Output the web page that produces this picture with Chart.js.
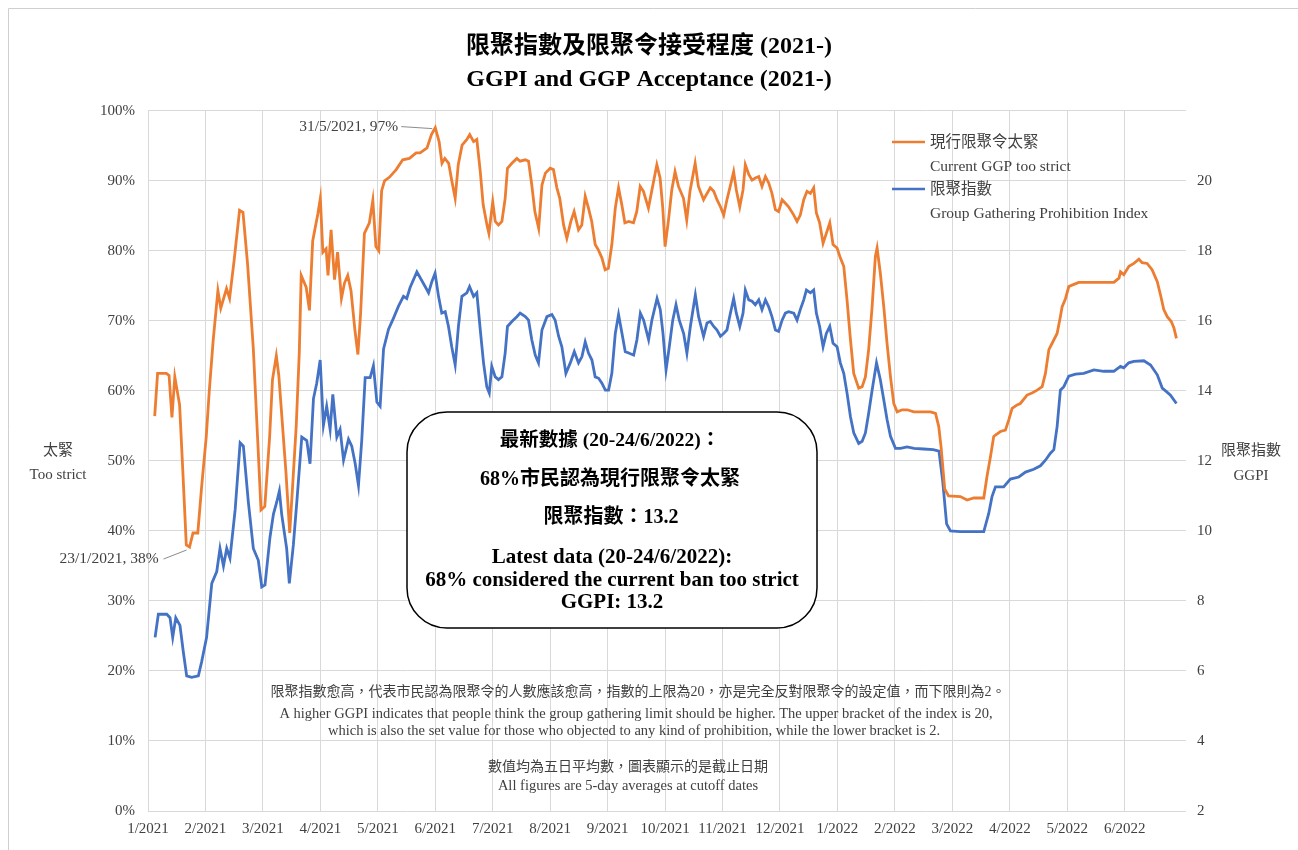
<!DOCTYPE html>
<html>
<head>
<meta charset="utf-8">
<script src="https://cdn.jsdelivr.net/npm/chart.js@4.4.1/dist/chart.umd.min.js"></script>
<style>
  body { margin: 0; background: #fff; }
  canvas { display: block; }
</style>
</head>
<body>
<canvas id="grafico" width="1298" height="850"></canvas>
<script>
// x = days since 1/1/2021, ticks every 30 days
const monthLabels = ["1/2021", "2/2021", "3/2021", "4/2021", "5/2021", "6/2021", "7/2021", "8/2021", "9/2021",
  "10/2021", "11/2021", "12/2021", "1/2022", "2/2022", "3/2022", "4/2022", "5/2022", "6/2022"];

// 現行限聚令太緊 (%)
const strictDays = [3.5, 5, 9.6, 11, 12.5, 14, 16.5, 18, 20, 21.7, 23.5, 26, 28, 30.4, 32, 34, 36.5, 38, 41, 42.6,
  45, 47.8, 49.6, 52, 55, 57.4, 59, 61, 63.5, 65, 67, 68.3, 69.5, 72, 74, 75.6, 77.4, 79, 80, 82.6,
  84.3, 86, 88.7, 90, 91.3, 93, 94, 95.6, 97.4, 99, 101, 102.6, 104.3, 106, 108, 109.6, 111, 113, 115.6, 117.4,
  119, 120.5, 122, 123.5, 126, 129.6, 133, 136.5, 140, 142.1, 145.7, 148, 150, 152, 153.5, 155, 157, 158.7, 160.4, 162,
  164, 166.5, 168, 170, 171.7, 173.5, 175, 177, 178, 180, 181.3, 183, 184.8, 186.5, 187.7, 190, 192.6, 194.3, 197, 198.7,
  200.4, 202, 204, 205.7, 207.5, 210, 211.7, 213.5, 215, 217, 218.7, 220.8, 222.5, 224.8, 226.5, 228.3, 230, 231.7, 233.5, 235.2,
  237, 238.7, 240.4, 242.2, 244, 245.7, 247.4, 249, 251, 253.5, 255.2, 257, 258.7, 261.3, 263, 265.7, 267.4, 268.8, 270, 271.7,
  273.5, 275.2, 277, 279.6, 281.3, 283, 285.7, 287.4, 290.1, 291.9, 293.6, 295.4, 297.1, 298.9, 300.6, 302.3, 304, 305.8, 307.2, 309,
  310.7, 311.9, 313.7, 315.4, 317.1, 318.9, 320.6, 322.4, 324.1, 325.8, 327.6, 329.3, 331.1, 332.8, 334.5, 337.2, 338.9, 340.6, 342.4, 344.1,
  345.9, 347.6, 349, 350.7, 352.5, 354.2, 356, 357.7, 359.8, 361.5, 363.3, 365, 366.8, 368.5, 371.1, 372.9, 374.6, 376.3, 378.1, 379.8,
  380.7, 382.4, 384.2, 385.9, 387.7, 389.4, 391.2, 393.8, 396.4, 399.9, 403.3, 408.6, 411.2, 412.9, 414.1, 416, 418, 424.2, 427.7, 431.2,
  436.4, 438.1, 439.9, 441.6, 442.5, 445.1, 447.7, 449.5, 451.2, 453.8, 455.5, 459, 461.6, 464.3, 466.9, 468.6, 470.4, 472.1, 474.7, 476.4,
  477.3, 479.1, 480.8, 482.5, 486, 493.9, 504.3, 507, 507.8, 509.5, 512.2, 514.8, 517.4, 519.1, 521.7, 524.3, 527, 528.7, 530.4, 532.2,
  534.3, 535.7, 537];
const strictVals = [56.4, 62.5, 62.5, 62.2, 56.2, 62, 58, 49.6, 38, 37.7, 39.7, 39.7, 46.3, 53.4, 60, 67.1, 74.3, 71.8, 74.6, 73.2,
  78.7, 85.8, 85.5, 78.1, 66, 52.3, 43, 43.5, 53.4, 61.6, 65, 62.2, 57.8, 48.5, 39.7, 46.8, 55, 65.5, 76.5, 74.8,
  71.5, 81.4, 85.3, 87.5, 79.8, 80.3, 76.5, 83, 75.9, 79.8, 73.2, 75.4, 76.5, 74.3, 68.8, 65.2, 71, 82.5, 84, 87.2,
  80.6, 80, 88.6, 90, 90.5, 91.6, 93, 93.2, 94, 94, 94.7, 96.6, 97.6, 95.6, 92.5, 93.2, 92.5, 89.9, 87.5, 92.3,
  95.1, 95.9, 96.6, 95.6, 95.9, 91.3, 86.6, 83.7, 82.5, 87, 84.2, 83.7, 84.2, 87.5, 91.8, 92.5, 93.2, 92.8, 93, 92.8,
  89.4, 85.6, 83.2, 89.4, 91.1, 91.8, 91.6, 89, 87.5, 83.7, 81.8, 84.2, 85.6, 83, 83.7, 87.8, 86.1, 84.2, 80.9, 80.1,
  79, 77.3, 77.5, 80.9, 86.1, 89, 86.6, 84, 84.2, 84, 85.6, 89.2, 88.5, 86.1, 88.5, 92.3, 90.4, 86.1, 80.6, 84.2,
  88.7, 91.3, 89.2, 87.5, 84.4, 88.5, 92.5, 89.2, 87.3, 88.2, 89, 88.5, 87.3, 86.3, 85.1, 87.3, 89.2, 91.3, 88.7, 86.3,
  88.7, 92.3, 90.9, 90.1, 90.4, 90.6, 89.2, 90.6, 89.7, 88.2, 85.9, 85.6, 87.3, 86.8, 86.3, 85.1, 84.2, 85.1, 87.3, 88.5,
  88.2, 89, 85.4, 84, 81.1, 82.5, 84, 80.9, 80.4, 79, 77.8, 73, 67.3, 62.5, 60.4, 60.6, 62, 65.9, 72, 79.2,
  80.4, 76.8, 72, 66.8, 62, 58.2, 57, 57.3, 57.3, 57, 57, 57, 56.8, 54.9, 52, 46, 45, 44.9, 44.4, 44.7,
  44.7, 47.8, 50.6, 53.5, 53.7, 54.2, 54.4, 55.9, 57.5, 58, 58.2, 59.4, 59.7, 60.1, 60.6, 62.5, 65.9, 66.8, 68.2, 70.6,
  72, 73.2, 74.9, 75.1, 75.5, 75.5, 75.5, 76.1, 77, 76.6, 77.8, 78.2, 78.8, 78.3, 78.2, 77.3, 75.6, 73.7, 71.6, 70.6,
  69.9, 69, 67.5];

// 限聚指數 (GGPI, 2-20)
const ggpiDays = [3.7, 5.4, 9.8, 11.5, 12.9, 14.5, 16.7, 18.5, 20.2, 22.8, 26.3, 28, 30.6, 33.3, 35.9, 37.6, 39.4, 41.1, 42.8, 45.5,
  48.1, 49.8, 52.4, 55, 57.6, 59.4, 61.1, 63.7, 65.5, 67.2, 68.6, 69.8, 72.4, 73.8, 75.9, 77.7, 80.3, 82.9, 84.6, 86.4,
  88.1, 89.9, 91.6, 93.3, 95.1, 96.5, 98.6, 100.3, 102.1, 104.7, 106.4, 108.2, 109.9, 111.6, 113.4, 116, 117.7, 119.5, 121.2, 123,
  125.6, 128.2, 130.8, 133.4, 135.1, 136.9, 140.4, 144.7, 146.5, 148.2, 149.9, 151.7, 153.4, 155.2, 156.9, 158.6, 160.4, 162.1, 163.9, 166.5,
  167.9, 170, 171.7, 173.5, 175.2, 176.9, 178.2, 179.5, 181.3, 183, 184.8, 186.5, 187.7, 190, 192.6, 194.3, 197, 198.7, 200.4, 202.2,
  203.9, 205.7, 208.3, 210.9, 212.6, 214.4, 216.1, 218.2, 220.5, 222.6, 224.8, 226.6, 228.3, 230, 231.8, 233.5, 235.3, 237, 238.8, 240.5,
  242.2, 244, 245.7, 247.5, 249.2, 251, 253.6, 255.3, 257.1, 258.8, 261.4, 263.1, 265.8, 267.5, 268.9, 270.5, 272.2, 274, 275.7, 277.4,
  279.7, 281.4, 283.2, 285.8, 287.5, 290.1, 291.9, 293.6, 295.4, 297.1, 298.9, 300.6, 302.3, 304.1, 305.8, 307.2, 309, 310.7, 311.9, 313.7,
  315.4, 317.1, 318.9, 320.6, 322.4, 324.1, 325.8, 327.6, 329.3, 331.1, 332.8, 334.5, 337.2, 338.9, 340.6, 342.4, 343.8, 345.9, 347.6, 349,
  350.7, 352.5, 354.2, 356, 357.7, 359.8, 361.5, 363.3, 365, 366.8, 368.5, 371.1, 372.9, 374.6, 376.3, 378.1, 380.4, 382.4, 384.2, 385.9,
  387.7, 390.3, 392.9, 396.4, 400, 405, 410, 413, 415, 417, 419, 424.2, 430, 436.4, 439, 440.7, 442.5, 446.8, 450.3, 454.7,
  458.2, 462.5, 466, 468.6, 471.2, 473, 474.7, 476.4, 478.2, 480.8, 484.3, 488.6, 493.9, 499.1, 504.3, 507.8, 509.5, 512.1, 514.8, 520,
  523.5, 527, 529.6, 531.8, 533.9, 537];
const ggpiVals = [6.96, 7.62, 7.62, 7.52, 6.96, 7.52, 7.3, 6.52, 5.86, 5.82, 5.86, 6.26, 6.96, 8.5, 8.84, 9.5, 9.0, 9.5, 9.22, 10.6,
  12.52, 12.42, 10.82, 9.5, 9.16, 8.4, 8.46, 9.82, 10.48, 10.82, 11.14, 10.48, 9.5, 8.5, 9.6, 10.82, 12.68, 12.58, 11.92, 13.78,
  14.22, 14.88, 13.02, 13.56, 12.9, 13.9, 12.68, 12.9, 12.02, 12.62, 12.42, 11.92, 11.3, 12.58, 14.38, 14.38, 14.72, 13.68, 13.56, 15.2,
  15.76, 16.08, 16.42, 16.7, 16.64, 16.96, 17.4, 16.98, 16.8, 17.12, 17.36, 16.7, 16.22, 16.26, 15.84, 15.26, 14.74, 15.84, 16.7, 16.8,
  16.98, 16.7, 16.8, 15.74, 14.8, 14.12, 13.94, 14.7, 14.4, 14.32, 14.4, 15.08, 15.84, 15.98, 16.12, 16.22, 16.12, 16.02, 15.46, 15.02,
  14.8, 15.74, 16.12, 16.18, 16.02, 15.56, 15.26, 14.5, 14.8, 15.12, 14.8, 14.98, 15.4, 15.08, 14.88, 14.4, 14.36, 14.22, 14.02, 14.02,
  14.5, 15.64, 16.18, 15.64, 15.12, 15.08, 15.02, 15.46, 16.22, 16.02, 15.46, 16.02, 16.64, 16.32, 15.64, 14.6, 15.26, 16.02, 16.46, 16.02,
  15.64, 15.08, 15.84, 16.74, 16.12, 15.56, 15.94, 15.98, 15.84, 15.74, 15.56, 15.64, 15.74, 16.22, 16.64, 16.22, 15.84, 16.22, 16.88, 16.6,
  16.56, 16.46, 16.6, 16.32, 16.6, 16.4, 16.12, 15.74, 15.7, 16.02, 16.22, 16.26, 16.22, 16.02, 16.32, 16.6, 16.88, 16.8, 16.88, 16.22,
  15.84, 15.26, 15.64, 15.84, 15.36, 15.26, 14.8, 14.5, 13.94, 13.26, 12.8, 12.5, 12.56, 12.8, 13.36, 14.02, 14.8, 14.32, 13.74, 13.18,
  12.7, 12.36, 12.36, 12.4, 12.36, 12.34, 12.32, 12.28, 11.4, 10.2, 10.0, 9.98, 9.98, 9.98, 10.5, 10.98, 11.26, 11.26, 11.48, 11.54,
  11.68, 11.76, 11.86, 12.02, 12.22, 12.32, 12.98, 14.02, 14.12, 14.42, 14.48, 14.5, 14.6, 14.56, 14.56, 14.7, 14.66, 14.8, 14.84, 14.86,
  14.74, 14.46, 14.08, 13.98, 13.88, 13.64];

const LARANJA = "#ED7D31";
const AZUL = "#4472C4";
const TEXTO = "#404040";
const GRADE = "#d9d9d9";
const FONTE = "'Liberation Serif', 'Noto Sans CJK TC', serif";

function pontos(dias, valores) {
  return dias.map((d, i) => ({ x: d, y: valores[i] }));
}

function texto(ctx, str, x, y, size, opts = {}) {
  ctx.save();
  ctx.font = (opts.bold ? "bold " : "") + size + "px " + FONTE;
  ctx.fillStyle = opts.color || TEXTO;
  ctx.textAlign = opts.align || "center";
  ctx.textBaseline = "middle";
  ctx.fillText(str, x, y);
  ctx.restore();
}

const decoracao = {
  id: "decoracao",
  beforeDraw(chart) {
    const ctx = chart.ctx;
    ctx.save();
    ctx.fillStyle = "#fff";
    ctx.fillRect(0, 0, chart.width, chart.height);
    ctx.strokeStyle = "#cfcfcf";
    ctx.lineWidth = 1;
    ctx.beginPath();
    ctx.moveTo(8.5, chart.height);
    ctx.lineTo(8.5, 8.5);
    ctx.lineTo(chart.width, 8.5);
    ctx.stroke();
    ctx.restore();
  },
  afterDraw(chart) {
    const ctx = chart.ctx;
    const { x, y } = chart.scales;

    // legenda
    const itens = [
      { cor: LARANJA, zh: "現行限聚令太緊", en: "Current GGP too strict", top: 142 },
      { cor: AZUL, zh: "限聚指數", en: "Group Gathering Prohibition Index", top: 189 }
    ];
    itens.forEach(it => {
      ctx.save();
      ctx.strokeStyle = it.cor;
      ctx.lineWidth = 2.5;
      ctx.beginPath();
      ctx.moveTo(892, it.top);
      ctx.lineTo(925, it.top);
      ctx.stroke();
      ctx.restore();
      texto(ctx, it.zh, 930, it.top + 1, 15.5, { align: "left" });
      texto(ctx, it.en, 930, it.top + 25, 15.5, { align: "left" });
    });

    // titulos dos eixos
    texto(ctx, "太緊", 58, 451, 15);
    texto(ctx, "Too strict", 58, 475, 15);
    texto(ctx, "限聚指數", 1251, 451, 15);
    texto(ctx, "GGPI", 1251, 476, 15);

    // notas de rodape
    texto(ctx, "限聚指數愈高，代表市民認為限聚令的人數應該愈高，指數的上限為20，亦是完全反對限聚令的設定值，而下限則為2。", 638, 692, 14);
    texto(ctx, "A higher GGPI indicates that people think the group gathering limit should be higher. The upper bracket of the index is 20,", 636, 714, 14.5);
    texto(ctx, "which is also the set value for those who objected to any kind of prohibition, while the lower bracket is 2.", 634, 731, 14.5);
    texto(ctx, "數值均為五日平均數，圖表顯示的是截止日期", 628, 767, 14);
    texto(ctx, "All figures are 5-day averages at cutoff dates", 628, 786, 14.5);

    // pico e vale anotados
    let iMax = 0, iMin = 0;
    strictVals.forEach((v, i) => {
      if (v > strictVals[iMax]) iMax = i;
      if (strictDays[i] < 60 && v < strictVals[iMin]) iMin = i;
    });
    const pMax = { x: x.getPixelForValue(strictDays[iMax]), y: y.getPixelForValue(strictVals[iMax]) };
    const pMin = { x: x.getPixelForValue(strictDays[iMin]), y: y.getPixelForValue(strictVals[iMin]) };
    ctx.save();
    ctx.strokeStyle = "#8c8c8c";
    ctx.lineWidth = 1;
    ctx.beginPath();
    ctx.moveTo(pMax.x - 34, pMax.y - 1);
    ctx.lineTo(pMax.x - 3, pMax.y + 1);
    ctx.moveTo(pMin.x - 26, pMin.y + 12);
    ctx.lineTo(pMin.x - 3, pMin.y + 3);
    ctx.stroke();
    ctx.restore();
    texto(ctx, "31/5/2021, 97%", pMax.x - 37, pMax.y - 1, 15.5, { align: "right" });
    texto(ctx, "23/1/2021, 38%", pMin.x - 31, pMin.y + 12, 15.5, { align: "right" });

    // caixa com os dados mais recentes
    ctx.save();
    ctx.beginPath();
    ctx.roundRect(407, 412, 410, 216, 40);
    ctx.fillStyle = "#fff";
    ctx.fill();
    ctx.strokeStyle = "#000";
    ctx.lineWidth = 1.5;
    ctx.stroke();
    ctx.restore();
    texto(ctx, "最新數據 (20-24/6/2022)：", 610, 441, 19.5, { bold: true, color: "#000" });
    texto(ctx, "68%市民認為現行限聚令太緊", 610, 480, 20, { bold: true, color: "#000" });
    texto(ctx, "限聚指數：13.2", 611, 518, 20, { bold: true, color: "#000" });
    texto(ctx, "Latest data (20-24/6/2022):", 612, 558, 21, { bold: true, color: "#000" });
    texto(ctx, "68% considered the current ban too strict", 612, 581, 21, { bold: true, color: "#000" });
    texto(ctx, "GGPI: 13.2", 612, 603, 21, { bold: true, color: "#000" });
  }
};

Chart.defaults.font.family = FONTE;
Chart.defaults.font.size = 15;
Chart.defaults.color = TEXTO;

const ctx = document.getElementById("grafico").getContext("2d");

new Chart(ctx, {
  type: "line",
  data: {
    datasets: [{
      label: "現行限聚令太緊",
      data: pontos(strictDays, strictVals),
      borderColor: LARANJA,
      borderWidth: 2.8,
      pointRadius: 0,
      yAxisID: "y"
    }, {
      label: "限聚指數",
      data: pontos(ggpiDays, ggpiVals),
      borderColor: AZUL,
      borderWidth: 2.8,
      pointRadius: 0,
      yAxisID: "y1"
    }]
  },
  options: {
    responsive: false,
    animation: false,
    layout: { padding: 0 },
    plugins: {
      legend: { display: false },
      tooltip: { enabled: false },
      title: {
        display: true,
        text: ["限聚指數及限聚令接受程度 (2021-)", "GGPI and GGP Acceptance (2021-)"],
        color: "#000",
        font: { size: 24, weight: "bold", lineHeight: 1.35 },
        padding: { top: 31, bottom: 15 }
      }
    },
    scales: {
      x: {
        type: "linear",
        min: 0,
        max: 542,
        afterBuildTicks: scale => {
          scale.ticks = monthLabels.map((_, i) => ({ value: i * 30 }));
        },
        afterFit: scale => { scale.height = 39; },
        ticks: {
          autoSkip: false,
          maxRotation: 0,
          padding: 9,
          callback: v => monthLabels[Math.round(v / 30)]
        },
        grid: { color: GRADE, drawTicks: false },
        border: { display: false }
      },
      y: {
        min: 0,
        max: 100,
        afterFit: scale => { scale.width = 148; },
        ticks: { stepSize: 10, padding: 13, callback: v => v + "%" },
        grid: { color: GRADE, drawTicks: false },
        border: { display: false }
      },
      y1: {
        position: "right",
        min: 2,
        max: 22,
        afterFit: scale => { scale.width = 112; },
        ticks: { stepSize: 2, padding: 11, callback: v => (v === 22 ? "" : v) },
        grid: { display: false, drawTicks: false },
        border: { display: false }
      }
    }
  },
  plugins: [decoracao]
});
</script>
</body>
</html>
